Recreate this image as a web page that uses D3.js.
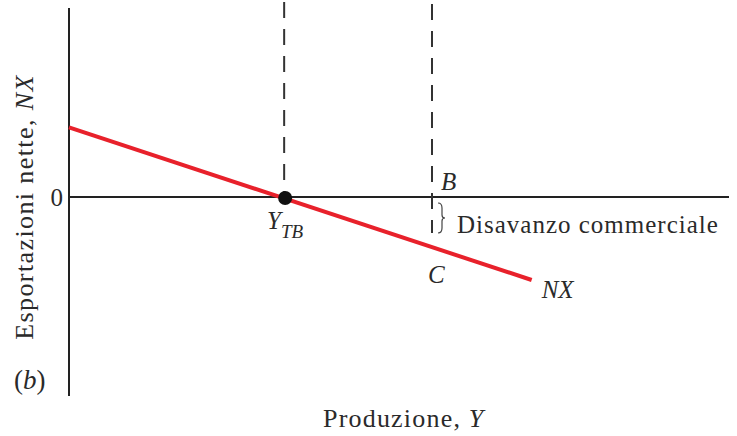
<!DOCTYPE html>
<html>
<head>
<meta charset="utf-8">
<script src="https://cdn.jsdelivr.net/npm/d3@7"></script>
<style>
  body { margin: 0; background: #fff; }
  text { font-family: "Liberation Serif", "DejaVu Serif", serif; fill: #2a2a2a; }
  .it { font-style: italic; }
</style>
</head>
<body>
<script>
// output Y (arbitrary units 0..100) and net exports NX (-10..10)
const nxLine = [
    { y: 0, nx: 3.48 },
    { y: 70.1, nx: -4.15 }
]
const yTB = 32.6      // trade balance output
const yB = 55         // output at point B / C
const axisTop = 9.45, axisBottom = -9.95
const dashTop = 9.85, dashBEnd = -1.8
const zeroTick = ['0']

const width = 737, height = 436

const svg = d3.select('body').append('svg')
    .attr('width', width)
    .attr('height', height)

const x = d3.scaleLinear().domain([0, 100]).range([69, 729])
const y = d3.scaleLinear().domain([-10, 10]).range([397, -3])

// axes
svg.append('line')
    .attr('x1', x(0)).attr('x2', x(0))
    .attr('y1', y(axisTop)).attr('y2', y(axisBottom))
    .attr('stroke', '#222').attr('stroke-width', 2)

svg.append('g')
    .attr('transform', `translate(0, ${y(0)})`)
    .call(d3.axisBottom(x).tickValues([]).tickSizeOuter(0))
    .call(g => g.select('.domain').attr('stroke', '#222').attr('stroke-width', 2)
        .attr('d', `M${x(0)},0H${x(100)}`))

svg.selectAll('.zero').data(zeroTick).enter().append('text')
    .attr('class', 'zero')
    .attr('x', x(0) - 6)
    .attr('y', y(0) + 9)
    .attr('text-anchor', 'end')
    .attr('font-size', 25)
    .text(d => d)

// dashed guides
const dash = svg.append('g').attr('stroke', '#333').attr('stroke-width', 2).attr('stroke-dasharray', '16,11')
dash.append('line')
    .attr('x1', x(yTB)).attr('x2', x(yTB))
    .attr('y1', y(dashTop) + 2).attr('y2', y(0))
dash.append('line')
    .attr('x1', x(yB)).attr('x2', x(yB))
    .attr('y1', y(dashTop) + 4).attr('y2', y(dashBEnd))

// NX line
const line = d3.line().x(d => x(d.y)).y(d => y(d.nx))
svg.append('path')
    .datum(nxLine)
    .attr('d', line)
    .attr('fill', 'none')
    .attr('stroke', '#e8212b')
    .attr('stroke-width', 4)

svg.append('circle')
    .attr('cx', x(yTB) + 1)
    .attr('cy', y(0) + 1)
    .attr('r', 7)
    .attr('fill', '#111')

// brace for the trade deficit
const bx = x(yB) + 6, by0 = y(0) + 6, by1 = y(dashBEnd)
const bm = (by0 + by1) / 2
svg.append('path')
    .attr('d', `M${bx},${by0} Q${bx + 4},${by0} ${bx + 4},${by0 + 5} L${bx + 4},${bm - 3} Q${bx + 4},${bm} ${bx + 7},${bm}` +
        ` Q${bx + 4},${bm} ${bx + 4},${bm + 3} L${bx + 4},${by1 - 5} Q${bx + 4},${by1} ${bx},${by1}`)
    .attr('fill', 'none')
    .attr('stroke', '#444')
    .attr('stroke-width', 1.2)

// labels
svg.append('text')
    .attr('class', 'it')
    .attr('x', 267).attr('y', 229)
    .attr('font-size', 25)
    .text('Y')
    .append('tspan')
    .attr('font-size', 19)
    .attr('dy', 9)
    .text('TB')

svg.append('text').attr('class', 'it')
    .attr('x', x(yB) + 9).attr('y', 190)
    .attr('font-size', 25)
    .text('B')

svg.append('text').attr('class', 'it')
    .attr('x', x(yB) - 4).attr('y', 283)
    .attr('font-size', 25)
    .text('C')

svg.append('text').attr('class', 'it')
    .attr('x', x(nxLine[1].y) + 10).attr('y', 298)
    .attr('font-size', 25)
    .text('NX')

svg.append('text')
    .attr('x', 457).attr('y', 233)
    .attr('font-size', 25)
    .attr('letter-spacing', 1)
    .text('Disavanzo commerciale')

// axis titles
svg.append('text')
    .attr('text-anchor', 'middle')
    .attr('transform', 'translate(33, 207) rotate(-90)')
    .attr('font-size', 26)
    .attr('letter-spacing', 1.4)
    .text('Esportazioni nette, ')
    .append('tspan').attr('class', 'it').text('NX')

svg.append('text')
    .attr('x', 323).attr('y', 427)
    .attr('font-size', 26)
    .attr('letter-spacing', 1.2)
    .text('Produzione, ')
    .append('tspan').attr('class', 'it').text('Y')

svg.append('text')
    .attr('x', 14).attr('y', 389)
    .attr('font-size', 27)
    .text('(')
    .call(t => t.append('tspan').attr('class', 'it').text('b'))
    .call(t => t.append('tspan').text(')'))
</script>
</body>
</html>
